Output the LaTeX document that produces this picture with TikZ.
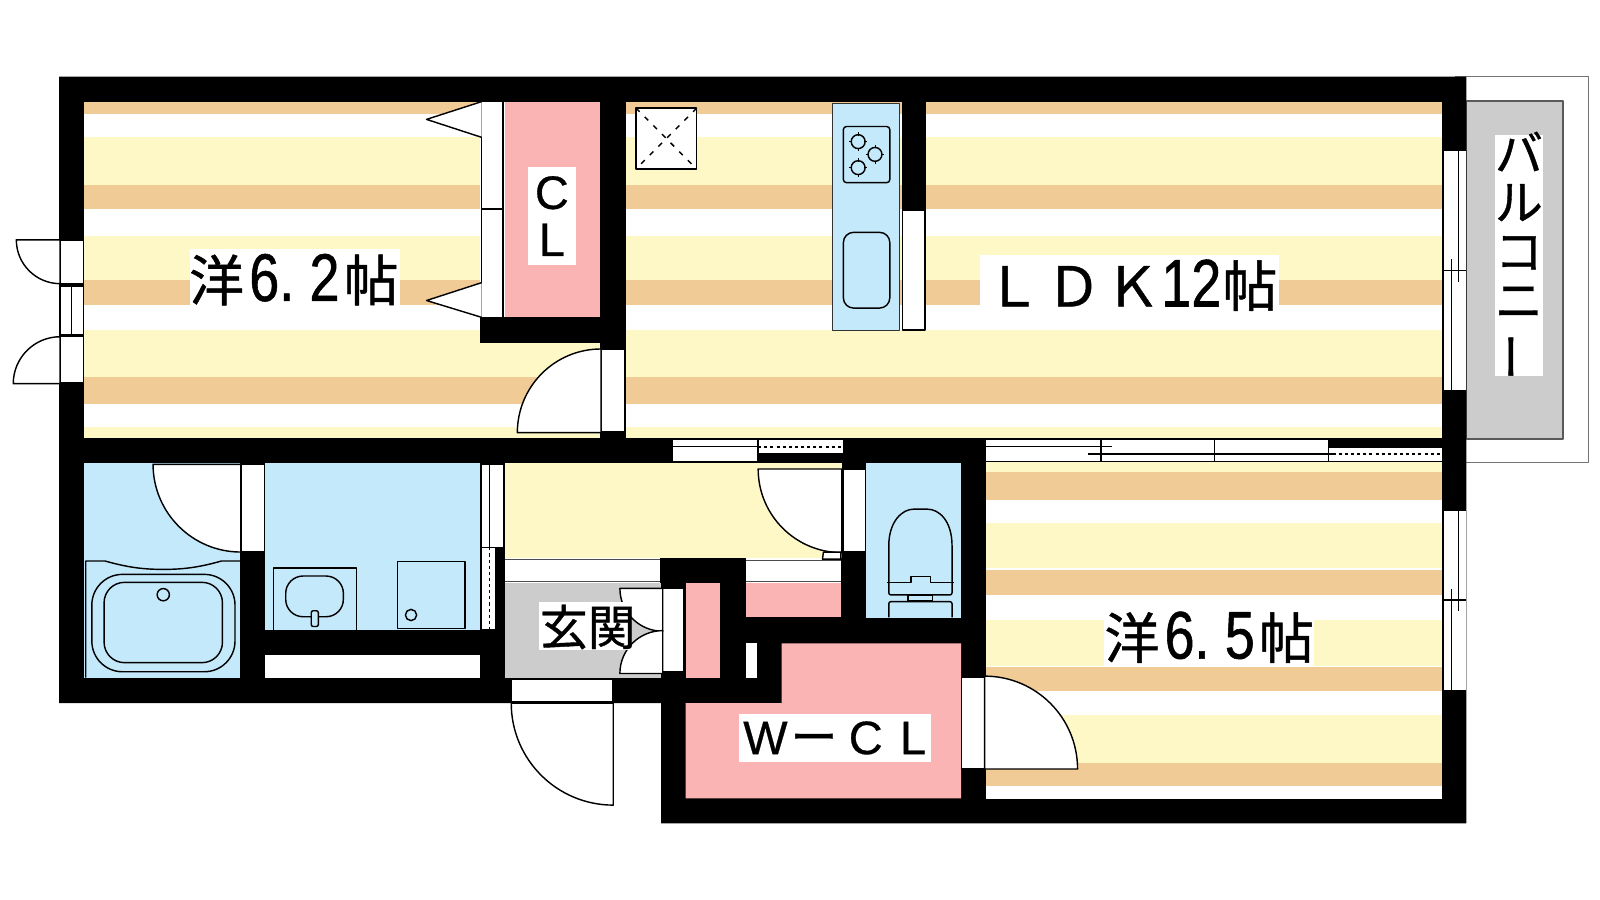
\documentclass[tikz,border=0pt]{standalone}
\usepackage{fontspec}
\setmainfont[FakeBold=0.6]{Liberation Sans}
\newfontfamily\jpfont[FakeBold=0.8]{Noto Sans CJK JP}
\newfontfamily\numfont[FakeStretch=0.8,FakeBold=0.8]{Liberation Sans}
\newcommand{\jpbig}[1]{{\jpfont\fontsize{54}{56}\selectfont #1}}
\newcommand{\numbig}[1]{{\numfont\fontsize{66}{66}\selectfont #1}}
\definecolor{stripeO}{HTML}{F0CB96}
\definecolor{stripeY}{HTML}{FEF8C6}
\definecolor{wetblue}{HTML}{C4E9FB}
\definecolor{closetpink}{HTML}{FAB4B4}
\definecolor{floorgray}{HTML}{CCCCCC}
\begin{document}
\begin{tikzpicture}[x=1pt,y=-1pt,line join=round]
	\tikzstyle{ln}     = [draw=black, line width=1.4pt]
	\tikzstyle{strip}  = [ln, fill=white]
	\tikzstyle{leaf}   = [ln, fill=white]
	\tikzstyle{fixt}   = [ln, fill=wetblue]
	\tikzstyle{label}  = [fill=white, inner sep=0pt, outer sep=0pt, text=black]
	\useasboundingbox (0,0) rectangle (1568,882);

	% balcony
	\draw[draw=black!55, line width=1.2pt] (1426,75) -- (1557,75) -- (1557,453) -- (1437,453);
	\draw[draw=black!65, fill=floorgray, line width=1.6pt] (1437,99) rectangle (1532,430);

	% walls
	\fill[black] (58,75) -- (1437,75) -- (1437,807) -- (648,807) -- (648,689) -- (58,689) -- cycle;

	% rooms
	\fill[white] (82,99.6) rectangle (588,429);
	\fill[white] (613,99.6) rectangle (1413,429);
	\fill[white] (966,452) rectangle (1413,783);
	\foreach \xa/\xb in {82/588, 613/1413}
		\foreach \ya/\yb/\c in {99.6/112/stripeO, 134.6/181/stripeY, 181/205/stripeO, 231/274.4/stripeY, 274.4/299/stripeO, 323/369/stripeY, 369/396/stripeO, 418/429/stripeY}
			\fill[\c] (\xa,\ya) rectangle (\xb,\yb);
	\foreach \ya/\yb/\c in {452/463/stripeY, 463/490/stripeO, 513/557/stripeY, 558.6/583/stripeO, 607.6/652.7/stripeY, 654/677/stripeO, 700.7/748/stripeY, 748/770/stripeO}
		\fill[\c] (966,\ya) rectangle (1413,\yb);

	% closet block, kitchen wall
	\fill[white] (470,99.6) rectangle (495,311);
	\fill[closetpink] (495,99.6) rectangle (588,311);
	\fill[black] (470,311) rectangle (612,336);
	\fill[black] (884,99) rectangle (907,206.5);

	% wet rooms and hall
	\fill[wetblue] (82,453.4) rectangle (235,664);
	\fill[wetblue] (260,453.4) rectangle (470.5,617.4);
	\fill[white] (260,642) rectangle (470.5,664);
	\fill[wetblue] (848.7,453.4) rectangle (942,605.3);
	\fill[stripeY] (495,453.4) rectangle (825,547);
	\fill[white] (495,547) rectangle (647,571);
	\fill[white] (731,547) rectangle (824,571);
	\fill[floorgray] (495,571.7) rectangle (648,664);
	\fill[closetpink] (731,571.7) rectangle (824,605);
	\fill[closetpink] (672,571) rectangle (706,664);
	\fill[white] (731,630.5) rectangle (741.5,664);
	\fill[closetpink] (766,630.5) -- (942,630.5) -- (942,782.5) -- (672,782.5) -- (672,689) -- (766,689) -- cycle;
	\foreach \xa/\xb/\y in {495/647/548.5, 495/647/569.5, 731/824/549, 731/824/569.5}
		\draw[draw=black!70, line width=1pt] (\xa,\y) -- (\xb,\y);

	% door and window strips
	\foreach \xa/\ya/\xb/\yb in {59/235/82/278, 59/281/82/328, 59/330/82/375, 472/99.6/493/205, 472/205/493/311, 589/342/612/423, 236/455/259/541, 826/459.6/848/540.6, 501/666/600/688, 942.4/664/965/753.6, 649.4/577/670/658, 884.3/206.5/906.5/323.4, 471.5/455/493.3/536.4, 472/536.4/486/617}
		\draw[strip] (\xa,\ya) rectangle (\xb,\yb);
	\draw[ln] (70,281) -- (70,328);
	\draw[ln] (479.5,455) -- (479.5,536.4);
	\draw[ln, dashed] (479.5,536.4) -- (479.5,617);

	% door leaves
	\foreach \cx/\cy/\sa/\da/\r in {589/424/180/-90/82, 59/235/180/90/43, 59/376/180/-90/46, 236/455/180/90/86, 825/459.6/180/90/82, 601/689/180/90/100, 965/753.6/0/90/91, 649.5/576.6/180/90/42, 649.5/660/180/-90/42}
		\draw[leaf] (\cx,\cy) -- ++(\sa:\r pt) arc[start angle=\sa, delta angle=\da, radius=\r pt] -- cycle;
	\draw[strip] (807,541) -- (824,541) -- (824,548) -- (806,548) -- cycle;

	% closet triangles
	\draw[strip] (472,99.6) -- (418,117) -- (472,134.6);
	\draw[strip] (472,277) -- (418,294.5) -- (472,311);

	% windows, long wall
	\fill[white] (660,430) rectangle (743,452.4);
	\fill[white] (743,431) rectangle (826,444);
	\fill[white] (966,430.5) rectangle (1302,452.4);
	\fill[white] (1302,438) rectangle (1413,452.4);
	\foreach \xa/\xb/\y in {660/826/430.5, 660/743/437.5, 660/826/452.4, 966/1302/430.5, 966/1090/437.7, 1066/1306/445, 966/1413/452.4, 1302/1413/438}
		\draw[ln] (\xa,\y) -- (\xb,\y);
	\foreach \x/\ya/\yb in {743/430/452.4, 1079/430/452.4, 1190.4/430/452.4, 1302/430/452.4}
		\draw[ln] (\x,\ya) -- (\x,\yb);
	\draw[ln, dashed] (743,438) -- (826,438);
	\draw[ln, dashed] (1306,445) -- (1413,445);
	\fill[black] (743,444) rectangle (826,452);

	% windows, right wall
	\foreach \ya/\ym/\yb in {148/265/382, 500.5/588/676} {
		\fill[white] (1414.5,\ya) rectangle (1437,\yb);
		\draw[ln] (1414.5,\ya) -- (1414.5,\yb);
		\draw[ln] (1414.5,\ym) -- (1437,\ym);
		\draw[ln] (1429.5,\ya) -- (1429.5,{\ym+11});
		\draw[ln] (1422.5,{\ym-11}) -- (1422.5,\yb);
	}

	% bath
	\draw[ln] (84,664) -- (84,549.8) -- (103,549.8) .. controls (125,556) and (140,558) .. (160,558) .. controls (180,558) and (195,556) .. (217,549.8) -- (235,549.8);
	\draw[ln, rounded corners=30pt] (90,562.9) rectangle (230.3,658.3);
	\draw[ln, rounded corners=20pt] (102,570.7) rectangle (218,649.4);
	\draw[ln] (160,582.8) circle (6pt);

	% washroom
	\draw[ln] (268,617) -- (268,556.7) -- (349.6,556.7) -- (349.6,617);
	\draw[ln, rounded corners=17pt] (280,564.5) rectangle (336.5,604.4);
	\draw[fixt, rounded corners=2pt] (305,614) -- (305,598.5) -- (312,598.5) -- (312,614) -- cycle;
	\draw[ln] (389.4,550.4) rectangle (455.7,616);
	\draw[ln] (402.8,602.7) circle (5.5pt);

	% toilet
	\draw[ln] (871,570.6) -- (871,535) .. controls (871,510) and (885,499) .. (895,499) -- (909,499) .. controls (920,499) and (933,510) .. (933,535) -- (933,570.6);
	\draw[ln] (869.7,570.6) -- (892.6,570.6) -- (892.6,565) -- (912,565) -- (912,570.6) -- (934.5,570.6);
	\draw[ln, rounded corners=2pt] (871,570.6) -- (871,583) -- (933,583) -- (933,570.6);
	\draw[ln] (890,583) rectangle (913.7,589);
	\draw[ln, rounded corners=2pt] (871,605) -- (871,589.6) -- (933,589.6) -- (933,605);

	% kitchen
	\draw[fixt, draw=black!80] (815.7,101.3) rectangle (881.4,324);
	\draw[ln, rounded corners=3pt] (826.5,124) rectangle (872,179);
	\foreach \bx/\by in {841/138.8, 857.5/151.3, 841/164.3} {
		\draw[ln] (\bx,\by) circle (6.8pt);
		\draw[ln, line width=.8pt] ({\bx-9},\by) -- ({\bx-6},\by) ({\bx+6},\by) -- ({\bx+9},\by) (\bx,{\by-9}) -- (\bx,{\by-6}) (\bx,{\by+6}) -- (\bx,{\by+9});
	}
	\draw[ln, rounded corners=10pt] (826.5,227.7) rectangle (872,301.9);
	\draw[strip] (623.3,106) rectangle (682.7,165.6);
	\draw[ln, dash pattern=on 5pt off 7pt] (623.3,106) -- (682.7,165.6);
	\draw[ln, dash pattern=on 5pt off 7pt] (682.7,106) -- (623.3,165.6);

	% labels
	\node[label, minimum width=206pt, minimum height=55pt] (bed62box) at (289,271.5) {};
	\node[inner sep=0pt] (bed62) at (288,274) {\jpbig{洋}\hspace{5pt}\numbig{6.\hspace{15pt}2}\hspace{4pt}\jpbig{帖}};
	\node[label, minimum width=206pt, minimum height=45pt] (bed65box) at (1185,630) {};
	\node[inner sep=0pt] (bed65) at (1185,624.5) {\jpbig{洋}\hspace{5pt}\numbig{6.\hspace{15pt}5}\hspace{4pt}\jpbig{帖}};
	\node[label, minimum width=293pt, minimum height=54pt] (ldkbox) at (1106.5,277) {};
	\node[inner sep=0pt] (ldk) at (1109,279.5) {\jpbig{Ｌ}\hspace{5pt}\jpbig{Ｄ}\hspace{4pt}\jpbig{Ｋ}\hspace{1pt}\numbig{12}\hspace{1pt}\jpbig{帖}};
	\node[label, minimum width=46.4pt, minimum height=95.4pt, font=\fontsize{46}{46}\selectfont, align=center] (cl) at (540.8,211.7) {C\\L};
	\node[label, minimum width=188pt, minimum height=46.5pt, font=\fontsize{46}{46}\selectfont] (wcl) at (818,723.2) {W\hspace{3pt}{\jpfont\fontsize{46}{46}\selectfont ー}\hspace{11pt}C\hspace{17pt}L};
	\node[label, minimum width=88.5pt, minimum height=47pt] (genkanbox) at (572.7,613.5) {};
	\node[inner sep=0pt, font=\jpfont\fontsize{47}{47}\selectfont] (genkan) at (576,614.5) {玄関};
	\node[label, minimum width=47pt, minimum height=236pt] (balconybox) at (1488.5,250) {};
	\node[inner sep=0pt, font=\jpfont\fontsize{47}{48}\selectfont, align=center] (balcony) at (1488.5,251) {バ\\ル\\コ\\ニ\\\rotatebox[origin=c]{90}{ー}};
\end{tikzpicture}
\end{document}
